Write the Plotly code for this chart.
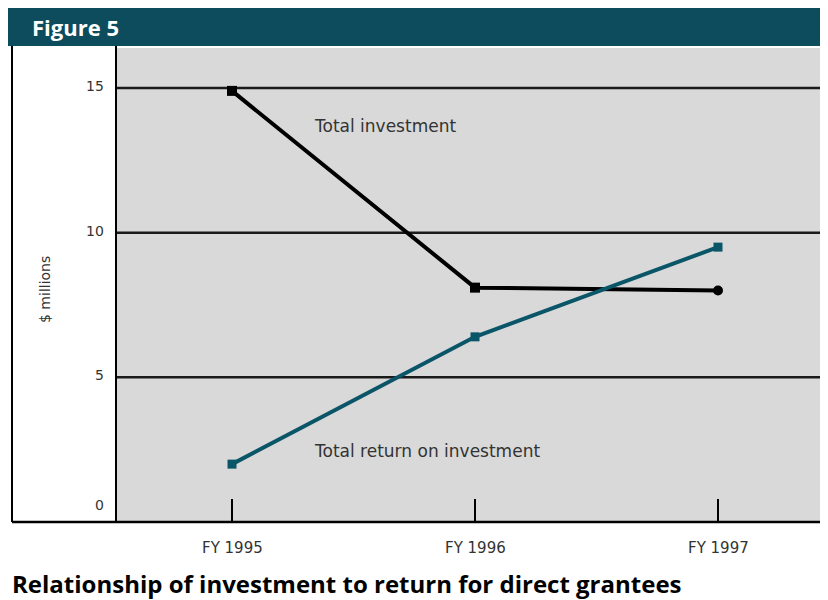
import plotly.graph_objects as go

# -----------------------
# Data
# -----------------------
years = ["FY 1995", "FY 1996", "FY 1997"]
total_investment = [14.9, 8.1, 8.0]
total_return = [2.0, 6.4, 9.5]
y_ticks = [0, 5, 10, 15]

# page puts the figure at an 8px offset, so the figure is 8px smaller
OFF = 8
W, H = 828 - OFF, 600 - OFF
PLOT_L, PLOT_B, PLOT_T = 116, 522, 48   # screen pixels

TEAL = "#0a5668"
HEADER = "#0c4c5d"
SMALL = "DejaVu Sans, Arial"
BOLD = "Open Sans, Arial"

x_idx = list(range(len(years)))


def px(xs):
    return (xs - OFF) / W


def py(ys):
    return 1 - (ys - OFF) / H


fig = go.Figure()
fig.add_trace(go.Scatter(
    x=x_idx, y=total_investment, mode="lines+markers",
    line=dict(color="black", width=4),
    marker=dict(color="black", size=10, symbol=["square", "square", "circle"]),
    showlegend=False, hoverinfo="skip"
))
fig.add_trace(go.Scatter(
    x=x_idx, y=total_return, mode="lines+markers",
    line=dict(color=TEAL, width=4),
    marker=dict(color=TEAL, size=9, symbol="square"),
    showlegend=False, hoverinfo="skip"
))

# x: FY1995 at px 232, spacing ~243
px_per_x = 243.0
x0 = 0 - (232 - PLOT_L) / px_per_x
x1 = 0 + (828 - 232) / px_per_x
# y: 0 at 522, 15 at 88
px_per_y = (PLOT_B - 88) / 15.0
y1 = (PLOT_B - PLOT_T) / px_per_y

shapes = []
# header band
shapes.append(dict(type="rect", xref="paper", yref="paper", x0=0, x1=1,
                   y0=py(46), y1=1, fillcolor=HEADER, line=dict(width=0),
                   layer="below"))
# gridlines
for v in y_ticks[1:]:
    shapes.append(dict(type="line", xref="paper", yref="y", x0=px(PLOT_L), x1=1,
                       y0=v, y1=v, line=dict(color="#1a1a1a", width=2.5),
                       layer="below"))
# left panel frame + bottom axis
shapes.append(dict(type="line", xref="paper", yref="paper", x0=px(12), x1=px(12),
                   y0=py(PLOT_B), y1=py(46), line=dict(color="black", width=2)))
shapes.append(dict(type="line", xref="paper", yref="paper", x0=px(12), x1=1,
                   y0=py(PLOT_B), y1=py(PLOT_B), line=dict(color="black", width=2.5)))
shapes.append(dict(type="line", xref="paper", yref="paper", x0=px(PLOT_L), x1=px(PLOT_L),
                   y0=py(PLOT_B), y1=py(46), line=dict(color="black", width=2)))
# x ticks pointing up from axis
for i in x_idx:
    shapes.append(dict(type="line", xref="x", yref="paper", x0=i, x1=i,
                       y0=py(PLOT_B), y1=py(PLOT_B - 23),
                       line=dict(color="black", width=2)))

annotations = []
for v in y_ticks:
    annotations.append(dict(
        xref="paper", yref="y", x=px(106), y=v, text=str(v), showarrow=False,
        xanchor="right", yanchor="middle", yshift=(17 if v == 0 else 2),
        font=dict(family=SMALL, size=14, color="#333333")))
for i, lab in enumerate(years):
    annotations.append(dict(
        xref="x", yref="paper", x=i, y=py(548), text=lab, showarrow=False,
        xanchor="center", yanchor="middle",
        font=dict(family=SMALL, size=15, color="#333333")))

annotations += [
    dict(xref="paper", yref="paper", x=px(30), y=py(27), text="<b>Figure 5</b>",
         showarrow=False, xanchor="left", yanchor="middle",
         font=dict(family=BOLD, size=22, color="white")),
    dict(xref="paper", yref="paper", x=px(45), y=py(290), text="$ millions",
         showarrow=False, textangle=-90, xanchor="center", yanchor="middle",
         font=dict(family=SMALL, size=14, color="#333333")),
    dict(xref="paper", yref="paper", x=px(312), y=py(126), text="Total investment",
         showarrow=False, xanchor="left", yanchor="middle",
         font=dict(family=SMALL, size=17, color="#333333")),
    dict(xref="paper", yref="paper", x=px(312), y=py(451), text="Total return on investment",
         showarrow=False, xanchor="left", yanchor="middle",
         font=dict(family=SMALL, size=17, color="#333333")),
    dict(xref="paper", yref="paper", x=px(10), y=py(583),
         text="<b>Relationship of investment to return for direct grantees</b>",
         showarrow=False, xanchor="left", yanchor="middle",
         font=dict(family=BOLD, size=24, color="black")),
]

fig.update_layout(
    width=W, height=H,
    margin=dict(l=0, r=0, t=0, b=0),
    paper_bgcolor="white",
    plot_bgcolor="#d9d9d9",
    xaxis=dict(domain=[px(PLOT_L), 1], range=[x0, x1], showgrid=False,
               zeroline=False, showticklabels=False, ticks="", showline=False,
               fixedrange=True),
    yaxis=dict(domain=[py(PLOT_B), py(PLOT_T)], range=[0, y1], showgrid=False,
               zeroline=False, showticklabels=False, ticks="", showline=False,
               fixedrange=True),
    shapes=shapes,
    annotations=annotations,
)

fig.write_html("out.html")
